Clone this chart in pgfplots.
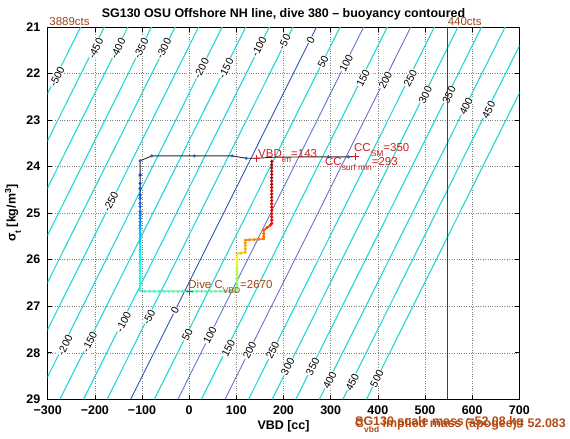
\documentclass[border=0pt]{standalone}
\usepackage{fontspec}
\setmainfont{Liberation Sans}
\usepackage{pgfplots}
\usepackage{pgfplotstable}
\pgfplotsset{compat=1.18}
\definecolor{contcyan}{RGB}{35,215,215}
\definecolor{czero}{RGB}{40,90,180}
\definecolor{cone}{RGB}{90,120,210}
\definecolor{ctwo}{RGB}{110,110,205}
\definecolor{annred}{RGB}{205,30,30}
\definecolor{annbrown}{RGB}{155,70,25}
\definecolor{massbrown}{RGB}{180,75,20}
\definecolor{surfblue}{RGB}{42,92,216}
\newcommand{\bigf}{\fontsize{12.5}{14}\selectfont}
\newcommand{\cf}{\fontsize{10.5}{12}\selectfont}
\newcommand{\af}{\fontsize{11.5}{13}\selectfont}
\newcommand{\sub}[1]{\raisebox{-0.42em}{\fontsize{8.5}{9}\selectfont #1}}
\tikzset{clab/.style={font=\cf, rotate=63, fill=white, inner sep=0.6bp, text=black}}

\pgfplotstableread{
x y
352 23.78
338 23.79
295 23.79
250 23.79
175 23.80
143 23.82
121 23.82
91 23.77
11 23.77
-79 23.77
-104 23.875
-104 26.68
101 26.68
101 25.87
119 25.84
119 25.58
158 25.55
158 25.37
172 25.26
175 25.22
175 23.85
}\pathall

\pgfplotstableread{
x y c
-104 25.30 0.29
-104 25.65 0.35
-104 26.08 0.38
-104 26.66 0.42
-104 26.68 0.43
-50 26.68 0.45
0 26.68 0.46
50 26.68 0.47
101 26.68 0.49
101 26.40 0.53
101 26.10 0.58
101 25.87 0.65
119 25.84 0.70
119 25.58 0.72
158 25.55 0.76
158 25.37 0.79
172 25.26 0.83
175 25.22 0.86
}\pathcol

\pgfplotstableread{
x y
338 23.79
295 23.79
121 23.82
91 23.77
11 23.77
-79 23.77
-104 23.875
}\surfdots

\pgfplotstableread{
x y c
-104 24.18 0.18
-104 24.36 0.19
-104 24.47 0.20
-104 24.61 0.21
-104 24.68 0.215
-104 24.79 0.22
-104 24.86 0.23
-104 24.97 0.24
-104 25.04 0.25
-104 25.11 0.26
-104 25.19 0.27
-104 25.26 0.28
-104 25.33 0.29
-104 25.44 0.31
-104 25.54 0.33
-104 25.65 0.35
-104 25.80 0.36
-104 25.94 0.37
-104 26.08 0.38
-104 26.23 0.39
-104 26.37 0.40
-104 26.51 0.41
-104 26.66 0.42
-94 26.68 0.430
-84 26.68 0.433
-74 26.68 0.435
-64 26.68 0.438
-54 26.68 0.440
-44 26.68 0.443
-34 26.68 0.446
-24 26.68 0.449
-14 26.68 0.452
-4 26.68 0.455
6 26.68 0.458
16 26.68 0.461
26 26.68 0.464
36 26.68 0.467
46 26.68 0.470
56 26.68 0.472
66 26.68 0.474
76 26.68 0.476
86 26.68 0.478
96 26.68 0.480
101 26.62 0.49
101 26.55 0.50
101 26.48 0.51
101 26.40 0.52
101 26.32 0.54
101 26.25 0.55
101 26.18 0.57
101 26.10 0.59
101 26.03 0.61
101 25.96 0.63
101 25.90 0.65
110 25.86 0.68
119 25.84 0.70
119 25.77 0.71
119 25.70 0.715
119 25.64 0.72
119 25.58 0.73
128 25.57 0.74
138 25.57 0.745
148 25.56 0.75
158 25.55 0.76
158 25.50 0.77
158 25.44 0.78
158 25.37 0.79
165 25.31 0.81
172 25.26 0.83
175 25.22 0.86
175 25.15 0.87
175 25.08 0.875
175 25.01 0.88
175 24.94 0.885
175 24.87 0.89
175 24.80 0.895
175 24.73 0.90
175 24.66 0.905
175 24.59 0.91
175 24.52 0.915
175 24.45 0.92
175 24.38 0.925
175 24.31 0.93
175 24.24 0.935
175 24.17 0.94
175 24.10 0.945
175 24.03 0.95
175 23.96 0.95
175 23.89 0.95
}\dotstab

\begin{document}
\begin{tikzpicture}
\useasboundingbox (-47.7bp,-39.7bp) rectangle (522.3bp,399.3bp);
\clip (-47.7bp,-39.7bp) rectangle (522.3bp,399.3bp);
\begin{axis}[
  at={(0bp,0bp)}, anchor=south west, scale only axis,
  width=471.6bp, height=372.3bp,
  xmin=-300, xmax=700, ymin=21, ymax=29, y dir=reverse,
  xtick={-300,-200,...,700},
  xticklabels={−300,−200,−100,0,100,200,300,400,500,600,700},
  ytick={21,22,...,29},
  yticklabels={21,22,23,24,25,26,27,28,29},
  tick align=inside, tick pos=both,
  major tick length=4.5bp,
  tick style={black, line width=0.6bp},
  axis line style={line width=0.8bp},
  grid=major,
  major grid style={dotted, gray, line width=0.5bp},
  ticklabel style={font=\bigf\bfseries},
  xticklabel style={anchor=base, yshift=-14.7bp},
  yticklabel style={anchor=east, xshift=-4bp},
  clip mode=individual,
  colormap/jet, point meta min=0, point meta max=1,
]
% buoyancy contours
\addplot[contcyan, line width=1.1bp] coordinates {(-230,21) (-624,29)};
\addplot[contcyan, line width=1.1bp] coordinates {(-180,21) (-574,29)};
\addplot[contcyan, line width=1.1bp] coordinates {(-130,21) (-524,29)};
\addplot[contcyan, line width=1.1bp] coordinates {(-80,21) (-474,29)};
\addplot[contcyan, line width=1.1bp] coordinates {(-30,21) (-424,29)};
\addplot[contcyan, line width=1.1bp] coordinates {(20,21) (-374,29)};
\addplot[contcyan, line width=1.1bp] coordinates {(70,21) (-324,29)};
\addplot[contcyan, line width=1.1bp] coordinates {(120,21) (-274,29)};
\addplot[contcyan, line width=1.1bp] coordinates {(170,21) (-224,29)};
\addplot[contcyan, line width=1.1bp] coordinates {(220,21) (-174,29)};
\addplot[czero, line width=0.9bp] coordinates {(270,21) (-124,29)};
\addplot[contcyan, line width=1.1bp] coordinates {(320,21) (-74,29)};
\addplot[cone, line width=0.9bp] coordinates {(370,21) (-24,29)};
\addplot[contcyan, line width=1.1bp] coordinates {(420,21) (26,29)};
\addplot[ctwo, line width=0.9bp] coordinates {(470,21) (76,29)};
\addplot[contcyan, line width=1.1bp] coordinates {(520,21) (126,29)};
\addplot[contcyan, line width=1.1bp] coordinates {(570,21) (176,29)};
\addplot[contcyan, line width=1.1bp] coordinates {(620,21) (226,29)};
\addplot[contcyan, line width=1.1bp] coordinates {(670,21) (276,29)};
\addplot[contcyan, line width=1.1bp] coordinates {(720,21) (326,29)};
\addplot[contcyan, line width=1.1bp] coordinates {(770,21) (376,29)};
% contour labels
\node[clab] at (axis cs:-280,22.07) {-500};
\node[clab] at (axis cs:-198,21.46) {-450};
\node[clab] at (axis cs:-151,21.46) {-400};
\node[clab] at (axis cs:-102,21.46) {-350};
\node[clab] at (axis cs:-54,21.46) {-300};
\node[clab] at (axis cs:-166,24.76) {-250};
\node[clab] at (axis cs:26,21.89) {-200};
\node[clab] at (axis cs:78,21.89) {-150};
\node[clab] at (axis cs:148,21.42) {-100};
\node[clab] at (axis cs:202,21.32) {-50};
\node[clab] at (axis cs:258,21.28) {0};
\node[clab] at (axis cs:284,21.75) {50};
\node[clab] at (axis cs:333,21.78) {100};
\node[clab] at (axis cs:369,22.10) {150};
\node[clab] at (axis cs:416,22.14) {200};
\node[clab] at (axis cs:469,22.10) {250};
\node[clab] at (axis cs:501,22.46) {300};
\node[clab] at (axis cs:551,22.46) {350};
\node[clab] at (axis cs:587,22.71) {400};
\node[clab] at (axis cs:635,22.78) {450};
\node[clab] at (axis cs:-263,27.84) {-200};
\node[clab] at (axis cs:-211,27.77) {-150};
\node[clab] at (axis cs:-139,27.34) {-100};
\node[clab] at (axis cs:-85,27.23) {-50};
\node[clab] at (axis cs:-30,27.09) {0};
\node[clab] at (axis cs:-4,27.62) {50};
\node[clab] at (axis cs:44,27.62) {100};
\node[clab] at (axis cs:83,27.91) {150};
\node[clab] at (axis cs:128,27.95) {200};
\node[clab] at (axis cs:177,27.95) {250};
\node[clab] at (axis cs:209,28.30) {300};
\node[clab] at (axis cs:262,28.30) {350};
\node[clab] at (axis cs:298,28.59) {400};
\node[clab] at (axis cs:346,28.63) {450};
\node[clab] at (axis cs:398,28.555) {500};
% vertical limit line
\addplot[black!75, line width=1.3bp] coordinates {(547,21) (547,29)};
% trajectory
\addplot[black!85, line width=0.9bp] table {\pathall};
\addplot[mesh, line width=1.4bp, point meta=explicit] table[meta=c] {\pathcol};
\addplot[only marks, mark=*, mark size=1.4bp, surfblue, mark options={draw=surfblue, fill=surfblue}] table {\surfdots};
\addplot[scatter, only marks, mark=*, mark size=1.4bp, point meta=explicit,
  scatter/use mapped color={draw=mapped color, fill=mapped color}] table[meta=c] {\dotstab};
\addplot[only marks, mark=+, mark size=3.5bp, annred, line width=0.8bp] coordinates {(143,23.82) (352,23.78)};
\addplot[only marks, mark=+, mark size=3.5bp, annbrown, line width=0.8bp] coordinates {(0,26.68)};
% annotations
\node[anchor=base west, font=\af, text=annred, inner sep=0pt] at (axis cs:146,23.80) {VBD\sub{tm}=143};
\node[anchor=base west, font=\af, text=annred, inner sep=0pt] at (axis cs:349.5,23.68) {CC\sub{SM}=350};
\node[anchor=base west, font=\af, text=annred, inner sep=0pt] at (axis cs:288,23.98) {CC\sub{surf min}=293};
\node[anchor=base west, font=\af, text=annbrown, inner sep=0pt] at (axis cs:-2,26.62) {Dive C\sub{VBD}=2670};
\node[anchor=base west, font=\af, text=annbrown, inner sep=0pt] at ([xshift=1.5bp,yshift=2bp]axis cs:-300,21) {3889cts};
\node[anchor=base west, font=\af, text=annbrown, inner sep=0pt] at ([xshift=0.5bp,yshift=1.5bp]axis cs:547,21) {440cts};
% titles and labels
\node[anchor=base, font=\bigf\bfseries, inner sep=0pt] at ([yshift=9.7bp]axis cs:200,21) {SG130 OSU Offshore NH line, dive 380 – buoyancy contoured};
\node[anchor=base, font=\bigf\bfseries, inner sep=0pt] at ([yshift=-30bp]axis cs:200,29) {VBD [cc]};
\node[rotate=90, anchor=center, font=\bigf\bfseries, inner sep=0pt] at ([xshift=-34.7bp]axis cs:-300,25) {σ\sub{t} [kg/m\textsuperscript{3}]};
\node[anchor=base west, font=\bigf\bfseries, text=massbrown, inner sep=0pt] at ([yshift=-25.7bp]axis cs:351.6,29) {SG130 scale mass =52.08 kg};
\node[anchor=base west, font=\bigf\bfseries, text=massbrown, inner sep=0pt] at ([yshift=-28bp]axis cs:351.6,29) {C\sub{vbd} implied mass (apogee)= 52.083};
\end{axis}
\end{tikzpicture}
\end{document}
